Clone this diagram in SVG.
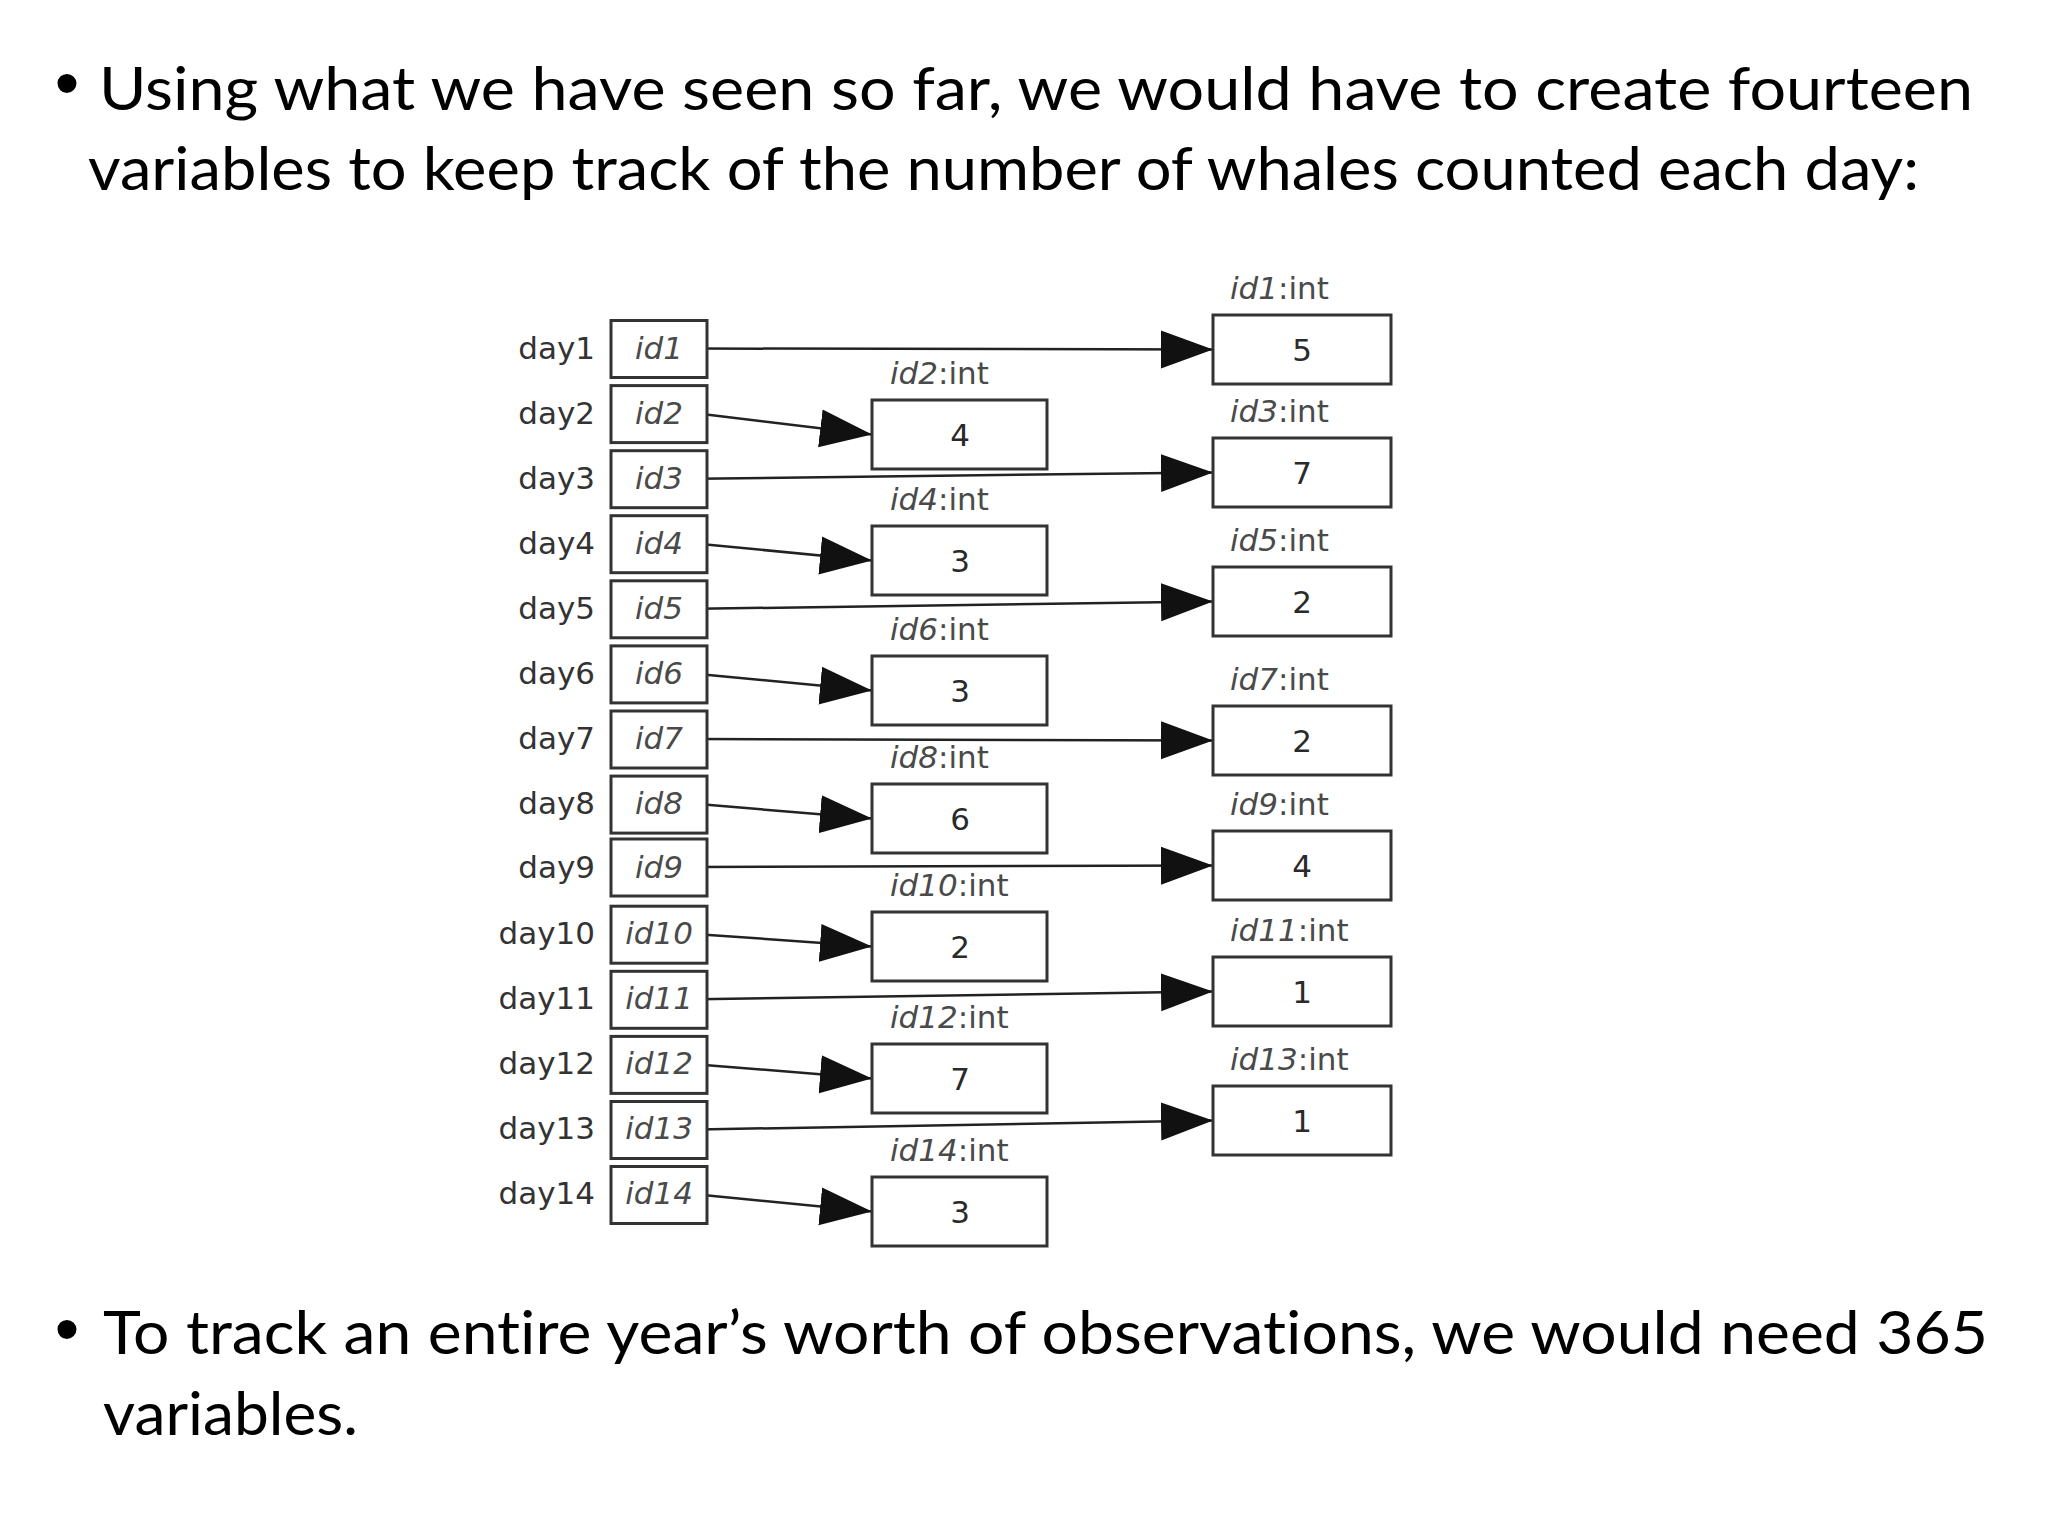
<svg xmlns="http://www.w3.org/2000/svg" width="2048" height="1536" viewBox="0 0 2048 1536">
<defs>
<style>
.main{font-family:Lato,"Open Sans","Liberation Sans",sans-serif;font-size:60px;fill:#000;font-variant-ligatures:none}
.bul{font-family:"Liberation Sans",Arial,sans-serif;font-size:70px;fill:#000}
.dt{font-family:"DejaVu Sans",sans-serif;font-size:31px;fill:#333}
.it{font-style:italic;fill:#4a4a4a}
.lbl{font-family:"DejaVu Sans",sans-serif;font-size:31px;fill:#4a4a4a}
.val{font-family:"DejaVu Sans",sans-serif;font-size:31px;fill:#2a2a2a;text-anchor:middle}
.box{fill:#fff;stroke:#333;stroke-width:3}
.con{fill:none;stroke:#222;stroke-width:2.5;marker-end:url(#ah)}
</style>
<marker id="ah" markerUnits="userSpaceOnUse" markerWidth="52" markerHeight="40" refX="52" refY="20" orient="auto">
<path d="M0,1 L52,20 L0,39 Z" fill="#111"/>
</marker>
</defs>
<rect width="2048" height="1536" fill="#fff"/>

<g id="text-top">
<text class="bul" x="67" y="107" text-anchor="middle">•</text>
<text class="main" x="99" y="110" textLength="1874" lengthAdjust="spacingAndGlyphs">Using what we have seen so far, we would have to create fourteen</text>
<text class="main" x="88" y="190" textLength="1831" lengthAdjust="spacingAndGlyphs">variables to keep track of the number of whales counted each day:</text>
</g>
<g id="text-bottom">
<text class="bul" x="67" y="1353" text-anchor="middle">•</text>
<text class="main" x="103" y="1354" textLength="1885" lengthAdjust="spacingAndGlyphs">To track an entire year’s worth of observations, we would need 365</text>
<text class="main" x="103" y="1435" textLength="255" lengthAdjust="spacingAndGlyphs">variables.</text>
</g>

<g id="connectors">
<line class="con" x1="698" y1="348.5" x2="1213" y2="349.5"/>
<line class="con" x1="698" y1="413.6" x2="872" y2="434.5"/>
<line class="con" x1="698" y1="478.7" x2="1213" y2="472.5"/>
<line class="con" x1="698" y1="543.7" x2="872" y2="560.5"/>
<line class="con" x1="698" y1="608.8" x2="1213" y2="601.5"/>
<line class="con" x1="698" y1="673.9" x2="872" y2="690.5"/>
<line class="con" x1="698" y1="739" x2="1213" y2="740.5"/>
<line class="con" x1="698" y1="804.1" x2="872" y2="818.5"/>
<line class="con" x1="698" y1="867" x2="1213" y2="865.5"/>
<line class="con" x1="698" y1="934.2" x2="872" y2="946.5"/>
<line class="con" x1="698" y1="999.3" x2="1213" y2="991.5"/>
<line class="con" x1="698" y1="1064.4" x2="872" y2="1078.5"/>
<line class="con" x1="698" y1="1129.5" x2="1213" y2="1120.5"/>
<line class="con" x1="698" y1="1194.5" x2="872" y2="1211.5"/>
</g>

<g id="day1"><text class="dt" x="595" y="359" text-anchor="end">day1</text><rect class="box" x="611" y="320.5" width="96" height="57" fill="none"/><text class="dt it" x="659" y="359" text-anchor="middle">id1</text></g>
<g id="day2"><text class="dt" x="595" y="424" text-anchor="end">day2</text><rect class="box" x="611" y="385.6" width="96" height="57"/><text class="dt it" x="659" y="424" text-anchor="middle">id2</text></g>
<g id="day3"><text class="dt" x="595" y="489" text-anchor="end">day3</text><rect class="box" x="611" y="450.7" width="96" height="57"/><text class="dt it" x="659" y="489" text-anchor="middle">id3</text></g>
<g id="day4"><text class="dt" x="595" y="554" text-anchor="end">day4</text><rect class="box" x="611" y="515.7" width="96" height="57"/><text class="dt it" x="659" y="554" text-anchor="middle">id4</text></g>
<g id="day5"><text class="dt" x="595" y="619" text-anchor="end">day5</text><rect class="box" x="611" y="580.8" width="96" height="57"/><text class="dt it" x="659" y="619" text-anchor="middle">id5</text></g>
<g id="day6"><text class="dt" x="595" y="684" text-anchor="end">day6</text><rect class="box" x="611" y="645.9" width="96" height="57"/><text class="dt it" x="659" y="684" text-anchor="middle">id6</text></g>
<g id="day7"><text class="dt" x="595" y="749" text-anchor="end">day7</text><rect class="box" x="611" y="711" width="96" height="57"/><text class="dt it" x="659" y="749" text-anchor="middle">id7</text></g>
<g id="day8"><text class="dt" x="595" y="814" text-anchor="end">day8</text><rect class="box" x="611" y="776.1" width="96" height="57"/><text class="dt it" x="659" y="814" text-anchor="middle">id8</text></g>
<g id="day9"><text class="dt" x="595" y="878" text-anchor="end">day9</text><rect class="box" x="611" y="839" width="96" height="57"/><text class="dt it" x="659" y="878" text-anchor="middle">id9</text></g>
<g id="day10"><text class="dt" x="595" y="944" text-anchor="end">day10</text><rect class="box" x="611" y="906.2" width="96" height="57"/><text class="dt it" x="659" y="944" text-anchor="middle">id10</text></g>
<g id="day11"><text class="dt" x="595" y="1009" text-anchor="end">day11</text><rect class="box" x="611" y="971.3" width="96" height="57"/><text class="dt it" x="659" y="1009" text-anchor="middle">id11</text></g>
<g id="day12"><text class="dt" x="595" y="1074" text-anchor="end">day12</text><rect class="box" x="611" y="1036.4" width="96" height="57"/><text class="dt it" x="659" y="1074" text-anchor="middle">id12</text></g>
<g id="day13"><text class="dt" x="595" y="1139" text-anchor="end">day13</text><rect class="box" x="611" y="1101.5" width="96" height="57"/><text class="dt it" x="659" y="1139" text-anchor="middle">id13</text></g>
<g id="day14"><text class="dt" x="595" y="1204" text-anchor="end">day14</text><rect class="box" x="611" y="1166.5" width="96" height="57"/><text class="dt it" x="659" y="1204" text-anchor="middle">id14</text></g>

<g id="id2-int"><text class="lbl" x="890" y="384"><tspan font-style="italic">id2</tspan>:int</text><rect class="box" x="872" y="400" width="175" height="69"/><text class="val" x="960" y="446">4</text></g>
<g id="id4-int"><text class="lbl" x="890" y="510"><tspan font-style="italic">id4</tspan>:int</text><rect class="box" x="872" y="526" width="175" height="69"/><text class="val" x="960" y="572">3</text></g>
<g id="id6-int"><text class="lbl" x="890" y="640"><tspan font-style="italic">id6</tspan>:int</text><rect class="box" x="872" y="656" width="175" height="69"/><text class="val" x="960" y="702">3</text></g>
<g id="id8-int"><text class="lbl" x="890" y="768"><tspan font-style="italic">id8</tspan>:int</text><rect class="box" x="872" y="784" width="175" height="69"/><text class="val" x="960" y="830">6</text></g>
<g id="id10-int"><text class="lbl" x="890" y="896"><tspan font-style="italic">id10</tspan>:int</text><rect class="box" x="872" y="912" width="175" height="69"/><text class="val" x="960" y="958">2</text></g>
<g id="id12-int"><text class="lbl" x="890" y="1028"><tspan font-style="italic">id12</tspan>:int</text><rect class="box" x="872" y="1044" width="175" height="69"/><text class="val" x="960" y="1090">7</text></g>
<g id="id14-int"><text class="lbl" x="890" y="1161"><tspan font-style="italic">id14</tspan>:int</text><rect class="box" x="872" y="1177" width="175" height="69"/><text class="val" x="960" y="1223">3</text></g>

<g id="id1-int"><text class="lbl" x="1230" y="299"><tspan font-style="italic">id1</tspan>:int</text><rect class="box" x="1213" y="315" width="178" height="69"/><text class="val" x="1302" y="361">5</text></g>
<g id="id3-int"><text class="lbl" x="1230" y="422"><tspan font-style="italic">id3</tspan>:int</text><rect class="box" x="1213" y="438" width="178" height="69"/><text class="val" x="1302" y="484">7</text></g>
<g id="id5-int"><text class="lbl" x="1230" y="551"><tspan font-style="italic">id5</tspan>:int</text><rect class="box" x="1213" y="567" width="178" height="69"/><text class="val" x="1302" y="613">2</text></g>
<g id="id7-int"><text class="lbl" x="1230" y="690"><tspan font-style="italic">id7</tspan>:int</text><rect class="box" x="1213" y="706" width="178" height="69"/><text class="val" x="1302" y="752">2</text></g>
<g id="id9-int"><text class="lbl" x="1230" y="815"><tspan font-style="italic">id9</tspan>:int</text><rect class="box" x="1213" y="831" width="178" height="69"/><text class="val" x="1302" y="877">4</text></g>
<g id="id11-int"><text class="lbl" x="1230" y="941"><tspan font-style="italic">id11</tspan>:int</text><rect class="box" x="1213" y="957" width="178" height="69"/><text class="val" x="1302" y="1003">1</text></g>
<g id="id13-int"><text class="lbl" x="1230" y="1070"><tspan font-style="italic">id13</tspan>:int</text><rect class="box" x="1213" y="1086" width="178" height="69"/><text class="val" x="1302" y="1132">1</text></g>
</svg>
